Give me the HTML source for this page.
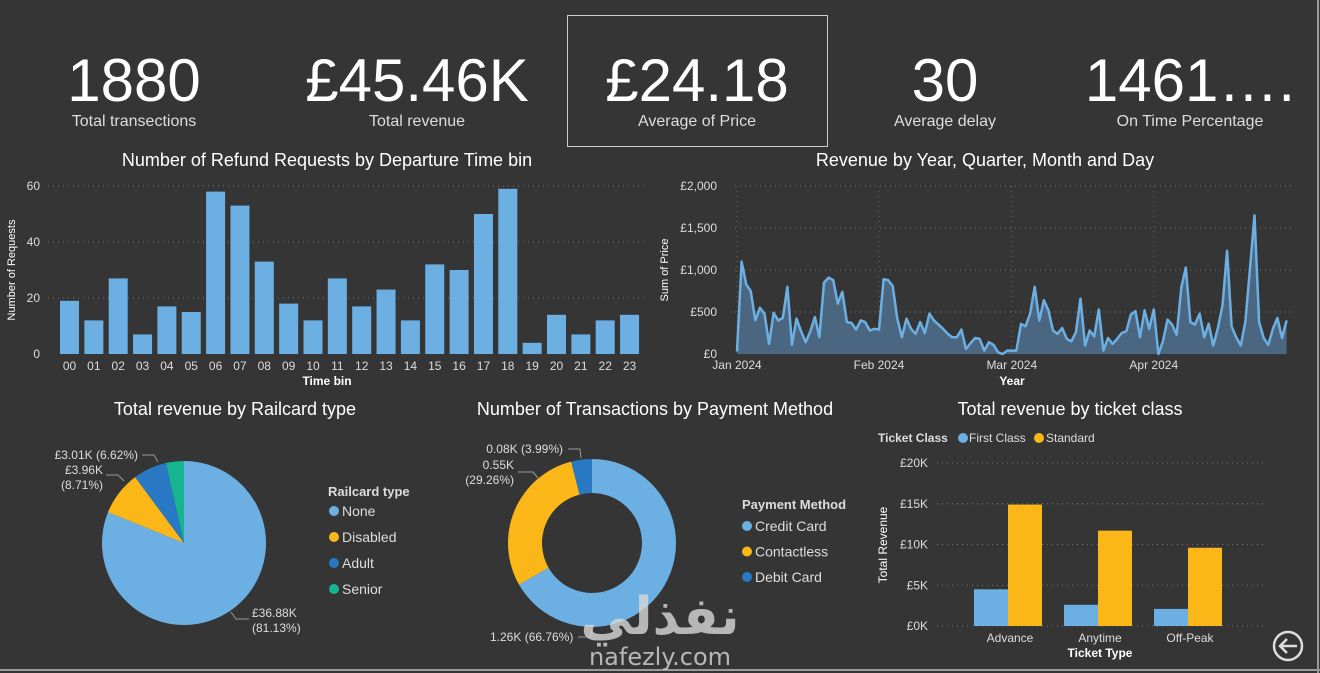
<!DOCTYPE html>
<html><head><meta charset="utf-8">
<style>
html,body{margin:0;padding:0;background:#353535;}
svg{display:block;font-family:"Liberation Sans",sans-serif;}
</style></head>
<body>
<svg id="root" width="1320" height="673" viewBox="0 0 1320 673" xmlns="http://www.w3.org/2000/svg">
<rect x="0" y="0" width="1320" height="673" fill="#353535"/>
<rect x="1317" y="0" width="2" height="673" fill="#9a9a9a"/>
<rect x="0" y="669" width="1320" height="2" fill="#9a9a9a"/>

<!-- KPI cards -->
<g fill="#fff" text-anchor="middle">
  <g><text x="134" y="101" font-size="60" font-weight="300">1880</text><text x="134" y="126" font-size="16" fill="#ddd">Total transections</text></g>
  <g><text x="417" y="101" font-size="60" font-weight="300">£45.46K</text><text x="417" y="126" font-size="16" fill="#ddd">Total revenue</text></g>
  <rect x="567.5" y="15.5" width="260" height="131" fill="none" stroke="#ccc" stroke-width="1"/>
  <g><text x="697" y="101" font-size="60" font-weight="300">£24.18</text><text x="697" y="126" font-size="16" fill="#ddd">Average of Price</text></g>
  <g><text x="945" y="101" font-size="60" font-weight="300">30</text><text x="945" y="126" font-size="16" fill="#ddd">Average delay</text></g>
  <g><text x="1190" y="101" font-size="60" font-weight="300">1461….</text><text x="1190" y="126" font-size="16" fill="#ddd">On Time Percentage</text></g>
</g>

<g id="bars1"></g>
<g id="line1"></g>
<g id="pie1"></g>
<g id="donut1"></g>
<g id="bars2"></g>

<g fill="#d8d8d8" opacity="0.8" text-anchor="middle">
  <text x="660" y="634" font-size="52" font-weight="bold" font-family="'DejaVu Sans',sans-serif">نفذلي</text>
  <text x="660" y="665" font-size="24" font-family="'DejaVu Sans',sans-serif">nafezly.com</text>
</g>
<g>
  <circle cx="1288" cy="646" r="14" fill="none" stroke="#ddd" stroke-width="2.5"/>
  <path d="M1297 646 H1281 M1287 639 L1280 646 L1287 653" fill="none" stroke="#ddd" stroke-width="2.5"/>
</g>
</svg>
<script>
const NS="http://www.w3.org/2000/svg";
function mk(tag,attrs,parent,txt){const e=document.createElementNS(NS,tag);for(const k in attrs)e.setAttribute(k,attrs[k]);if(txt!==undefined)e.textContent=txt;parent.appendChild(e);return e;}

// ---------- Chart 1 data ----------
const timeBins=["00","01","02","03","04","05","06","07","08","09","10","11","12","13","14","15","16","17","18","19","20","21","22","23"];
const refundCounts=[19,12,27,7,17,15,58,53,33,18,12,27,17,23,12,32,30,50,59,4,14,7,12,14];
const refundTicks=[0,20,40,60];

// ---------- Chart 2 data ----------
const revenueDaily=[30,1100,830,750,400,550,480,120,490,400,430,800,110,420,270,140,270,440,200,850,910,880,600,740,380,370,290,400,380,280,300,
290,890,880,810,420,200,420,300,240,380,250,480,400,350,300,240,200,200,290,60,130,190,180,40,140,110,20,0,40,
40,40,360,330,480,800,400,640,520,280,240,310,180,150,260,660,100,280,210,530,40,190,120,180,250,270,470,510,200,520,300,
530,0,150,410,350,230,790,1030,380,350,480,200,360,100,310,580,1230,330,200,100,390,1020,1650,380,190,110,300,430,190,400];
const monthLabels=["Jan 2024","Feb 2024","Mar 2024","Apr 2024"];
const monthStartDays=[0,31,60,91];
const revenueTicks=[0,500,1000,1500,2000];
const revenueTickLabels=["£0","£500","£1,000","£1,500","£2,000"];

// ---------- Chart 3 data ----------
const railcardTypes=["None","Disabled","Adult","Senior"];
const railcardRevenue=[36.88,3.96,3.01,1.61];
const railcardColors=["#6cb0e3","#fbb718","#2878c3","#15b58f"];

// ---------- Chart 4 data ----------
const paymentMethods=["Credit Card","Contactless","Debit Card"];
const paymentCounts=[1.255,0.55,0.075];
const paymentColors=["#6cb0e3","#fbb718","#2878c3"];

// ---------- Chart 5 data ----------
const ticketTypes=["Advance","Anytime","Off-Peak"];
const firstClassRevenue=[4.5,2.6,2.1];
const standardRevenue=[14.9,11.7,9.6];
const ticketTicks=[0,5,10,15,20];

// ===== Chart 1 =====
(function(){
  const g=document.getElementById('bars1');
  const y=v=>354-v*(168/60), x=i=>69.5+i*24.35;
  mk('text',{x:327,y:166,'font-size':18,fill:'#fff','text-anchor':'middle'},g,'Number of Refund Requests by Departure Time bin');
  refundTicks.forEach(t=>{
    if(t>0)mk('line',{x1:48,x2:645,y1:y(t),y2:y(t),stroke:'#777','stroke-dasharray':'1 4'},g);
    mk('text',{x:40,y:y(t)+4,'font-size':12,fill:'#ddd','text-anchor':'end'},g,t);
  });
  timeBins.forEach((b,i)=>{
    const r=mk('rect',{x:x(i)-9.5,y:y(refundCounts[i]),width:19,height:354-y(refundCounts[i]),fill:'#6cb0e3'},g);
    
    
    mk('text',{x:x(i),y:370,'font-size':12,fill:'#ddd','text-anchor':'middle'},g,b);
  });
  mk('text',{x:327,y:385,'font-size':12,'font-weight':'bold',fill:'#fff','text-anchor':'middle'},g,'Time bin');
  mk('text',{x:15,y:270,'font-size':11,fill:'#fff','text-anchor':'middle',transform:'rotate(-90 15 270)'},g,'Number of Requests');
})();

// ===== Chart 2 =====
(function(){
  const g=document.getElementById('line1');
  const y=v=>354-v*(168/2000), x=d=>737+d*4.58;
  mk('text',{x:985,y:166,'font-size':18,fill:'#fff','text-anchor':'middle'},g,'Revenue by Year, Quarter, Month and Day');
  revenueTicks.forEach((t,i)=>{
    if(t>0)mk('line',{x1:735,x2:1293,y1:y(t),y2:y(t),stroke:'#777','stroke-dasharray':'1 4'},g);
    mk('text',{x:717,y:y(t)+4,'font-size':12,fill:'#ddd','text-anchor':'end'},g,revenueTickLabels[i]);
  });
  monthStartDays.forEach((d,i)=>{
    mk('line',{x1:x(d),x2:x(d),y1:186,y2:354,stroke:'#666','stroke-dasharray':'1 4'},g);
    mk('text',{x:x(d),y:369,'font-size':12,fill:'#ddd','text-anchor':'middle'},g,monthLabels[i]);
  });
  let pts=revenueDaily.map((v,i)=>x(i).toFixed(1)+','+y(v).toFixed(1));
  const area=mk('path',{d:'M'+x(0)+',354 L'+pts.join(' L')+' L'+x(revenueDaily.length-1)+',354 Z',fill:'#4f6f8e',opacity:0.85},g);
  
  
  const ln=mk('polyline',{points:pts.join(' '),fill:'none',stroke:'#6cb0e3','stroke-width':2.5,'stroke-linejoin':'round'},g);
  
  
  mk('text',{x:1012,y:385,'font-size':12,'font-weight':'bold',fill:'#fff','text-anchor':'middle'},g,'Year');
  mk('text',{x:668,y:270,'font-size':11,fill:'#fff','text-anchor':'middle',transform:'rotate(-90 668 270)'},g,'Sum of Price');
})();

function arcPath(cx,cy,r,ri,a0,a1){
  const p=(a,rr)=>[cx+rr*Math.sin(a),cy-rr*Math.cos(a)];
  const lg=(a1-a0)>Math.PI?1:0;
  const [x0,y0]=p(a0,r),[x1,y1]=p(a1,r);
  if(ri<=0)return `M${cx},${cy} L${x0},${y0} A${r},${r} 0 ${lg} 1 ${x1},${y1} Z`;
  const [x2,y2]=p(a1,ri),[x3,y3]=p(a0,ri);
  return `M${x0},${y0} A${r},${r} 0 ${lg} 1 ${x1},${y1} L${x2},${y2} A${ri},${ri} 0 ${lg} 0 ${x3},${y3} Z`;
}

// ===== Chart 3 =====
(function(){
  const g=document.getElementById('pie1');
  mk('text',{x:235,y:415,'font-size':18,fill:'#fff','text-anchor':'middle'},g,'Total revenue by Railcard type');
  const tot=railcardRevenue.reduce((a,b)=>a+b,0);let a=0;
  railcardRevenue.forEach((v,i)=>{
    const a1=a+v/tot*2*Math.PI;
    const s=mk('path',{d:arcPath(184,543,82,0,a,a1),fill:railcardColors[i]},g);
    
    
    a=a1;
  });
  const lab=(t,x,y,anc)=>mk('text',{x:x,y:y,'font-size':12,fill:'#ddd','text-anchor':anc||'start'},g,t);
  lab('£3.01K (6.62%)',138,459,'end');mk('path',{d:'M142,455 H154 L158,462',stroke:'#999',fill:'none'},g);
  lab('£3.96K',103,474,'end');lab('(8.71%)',103,489,'end');mk('path',{d:'M106,475 H118 L124,481',stroke:'#999',fill:'none'},g);
  lab('£36.88K',252,617);lab('(81.13%)',252,632);mk('path',{d:'M231,612 L236,619 H249',stroke:'#999',fill:'none'},g);
  mk('text',{x:328,y:496,'font-size':13,'font-weight':'bold',fill:'#ddd'},g,'Railcard type');
  railcardTypes.forEach((t,i)=>{
    const yy=511+i*26;
    mk('circle',{cx:334,cy:yy,r:5,fill:railcardColors[i]},g);
    mk('text',{x:342,y:yy+5,'font-size':14,fill:'#ddd'},g,t);
  });
})();

// ===== Chart 4 =====
(function(){
  const g=document.getElementById('donut1');
  mk('text',{x:655,y:415,'font-size':18,fill:'#fff','text-anchor':'middle'},g,'Number of Transactions by Payment Method');
  const tot=paymentCounts.reduce((a,b)=>a+b,0);let a=0;
  paymentCounts.forEach((v,i)=>{
    const a1=a+v/tot*2*Math.PI;
    const s=mk('path',{d:arcPath(592,543,84,50,a,a1),fill:paymentColors[i]},g);
    
    
    a=a1;
  });
  const lab=(t,x,y,anc)=>mk('text',{x:x,y:y,'font-size':12,fill:'#ddd','text-anchor':anc||'start'},g,t);
  lab('0.08K (3.99%)',563,453,'end');mk('path',{d:'M568,449 H580 L581,458',stroke:'#999',fill:'none'},g);
  lab('0.55K',514,469,'end');lab('(29.26%)',514,484,'end');mk('path',{d:'M518,472 H533 L538,478',stroke:'#999',fill:'none'},g);
  lab('1.26K (66.76%)',490,641);mk('path',{d:'M578,637 H590 L592,630',stroke:'#999',fill:'none'},g);
  mk('text',{x:742,y:509,'font-size':13,'font-weight':'bold',fill:'#ddd'},g,'Payment Method');
  paymentMethods.forEach((t,i)=>{
    const yy=526+i*25.5;
    mk('circle',{cx:747,cy:yy,r:5,fill:paymentColors[i]},g);
    mk('text',{x:755,y:yy+5,'font-size':14,fill:'#ddd'},g,t);
  });
})();

// ===== Chart 5 =====
(function(){
  const g=document.getElementById('bars2');
  const y=v=>626-v*(163/20), x=i=>1010+i*90;
  mk('text',{x:1070,y:415,'font-size':18,fill:'#fff','text-anchor':'middle'},g,'Total revenue by ticket class');
  mk('text',{x:878,y:442,'font-size':12,'font-weight':'bold',fill:'#ddd'},g,'Ticket Class');
  mk('circle',{cx:963,cy:438,r:5,fill:'#6cb0e3'},g);mk('text',{x:969,y:442,'font-size':12,fill:'#ddd'},g,'First Class');
  mk('circle',{cx:1039,cy:438,r:5,fill:'#fbb718'},g);mk('text',{x:1046,y:442,'font-size':12,fill:'#ddd'},g,'Standard');
  ticketTicks.forEach(t=>{
    mk('line',{x1:937,x2:1263,y1:y(t),y2:y(t),stroke:'#777','stroke-dasharray':'1 4'},g);
    mk('text',{x:928,y:y(t)+4,'font-size':12,fill:'#ddd','text-anchor':'end'},g,'£'+t+'K');
  });
  ticketTypes.forEach((t,i)=>{
    const b1=mk('rect',{x:x(i)-36,y:y(firstClassRevenue[i]),width:34,height:626-y(firstClassRevenue[i]),fill:'#6cb0e3'},g);
    
    
    const b2=mk('rect',{x:x(i)-2,y:y(standardRevenue[i]),width:34,height:626-y(standardRevenue[i]),fill:'#fbb718'},g);
    
    
    mk('text',{x:x(i),y:642,'font-size':12,fill:'#ddd','text-anchor':'middle'},g,t);
  });
  mk('text',{x:1100,y:657,'font-size':12,'font-weight':'bold',fill:'#fff','text-anchor':'middle'},g,'Ticket Type');
  mk('text',{x:887,y:545,'font-size':12,fill:'#fff','text-anchor':'middle',transform:'rotate(-90 887 545)'},g,'Total Revenue');
})();
</script>
</body></html>
